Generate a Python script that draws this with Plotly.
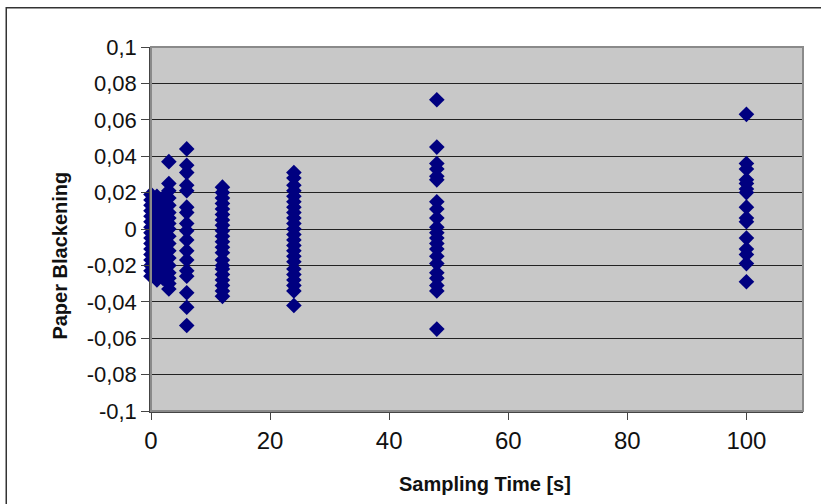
import plotly.graph_objects as go

# Sampling times [s] and paper-blackening values
t_0 = [0.019, 0.016, 0.013, 0.010, 0.007, 0.004, 0.001, -0.002, -0.005, -0.008,
       -0.011, -0.014, -0.017, -0.020, -0.023, -0.026]
t_1 = [0.018, 0.015, 0.011, 0.008, 0.005, 0.002, -0.001, -0.004, -0.007, -0.010,
       -0.013, -0.016, -0.019, -0.022, -0.025, -0.028]
t_2 = [0.017, 0.014, 0.010, 0.006, 0.003, 0.000, -0.003, -0.006, -0.009, -0.012,
       -0.015, -0.018, -0.021, -0.024, -0.027]
t_3 = [0.037, 0.025, 0.021, 0.017, 0.013, 0.009, 0.006, 0.003, 0.000, -0.004,
       -0.008, -0.012, -0.016, -0.020, -0.024, -0.027, -0.030, -0.033]
t_6 = [0.044, 0.035, 0.031, 0.024, 0.021, 0.012, 0.009, 0.003, -0.001, -0.006,
       -0.012, -0.017, -0.023, -0.026, -0.035, -0.043, -0.053]
t_12 = [0.023, 0.020, 0.017, 0.014, 0.011, 0.008, 0.005, 0.002, -0.001, -0.004,
        -0.007, -0.010, -0.013, -0.017, -0.020, -0.022, -0.025, -0.028, -0.031,
        -0.034, -0.037]
t_24 = [0.031, 0.028, 0.024, 0.021, 0.018, 0.015, 0.012, 0.009, 0.006, 0.003,
        0.000, -0.003, -0.006, -0.009, -0.012, -0.015, -0.018, -0.022, -0.025,
        -0.028, -0.031, -0.034, -0.042]
t_48 = [0.071, 0.045, 0.036, 0.033, 0.029, 0.027, 0.015, 0.011, 0.006, 0.001,
        -0.002, -0.005, -0.008, -0.011, -0.015, -0.019, -0.024, -0.027, -0.031,
        -0.034, -0.055]
t_100 = [0.063, 0.036, 0.033, 0.027, 0.025, 0.022, 0.020, 0.012, 0.006, 0.004,
         -0.005, -0.011, -0.014, -0.019, -0.029]

sampling_times = [0, 1, 2, 3, 6, 12, 24, 48, 100]
groups = [t_0, t_1, t_2, t_3, t_6, t_12, t_24, t_48, t_100]

y_tick_vals = [0.1, 0.08, 0.06, 0.04, 0.02, 0, -0.02, -0.04, -0.06, -0.08, -0.1]
y_tick_text = ["0,1", "0,08", "0,06", "0,04", "0,02", "0", "-0,02", "-0,04",
               "-0,06", "-0,08", "-0,1"]
x_tick_vals = [0, 20, 40, 60, 80, 100]

xs, ys = [], []
for t, vals in zip(sampling_times, groups):
    xs += [t] * len(vals)
    ys += vals

fig = go.Figure()
fig.add_trace(go.Scatter(
    x=xs, y=ys, mode="markers", cliponaxis=False,
    marker=dict(symbol="diamond", size=12, color="#000080",
                line=dict(width=0)),
    showlegend=False,
))

FONT = "Liberation Sans, Arial, sans-serif"
fig.update_layout(
    width=821, height=504,
    margin=dict(l=151, r=18, t=47, b=93),
    paper_bgcolor="white",
    plot_bgcolor="#c8c8c8",
    font=dict(family=FONT, color="#111"),
    xaxis=dict(range=[0, 109.5], tickvals=x_tick_vals, ticks="outside",
               ticklen=7, tickcolor="#444", showgrid=False, zeroline=False,
               showline=True, linecolor="#444", linewidth=1.5,
               tickfont=dict(size=24, family=FONT, color="#111")),
    yaxis=dict(range=[-0.1, 0.1], tickvals=y_tick_vals, ticktext=y_tick_text,
               ticks="outside", ticklen=8, tickcolor="#444",
               showgrid=True, gridcolor="#222", gridwidth=1,
               zeroline=False, showline=True, linecolor="#444", linewidth=1.5,
               tickfont=dict(size=22, family=FONT, color="#111")),
    shapes=[
        dict(type="rect", xref="paper", yref="paper", x0=0, x1=1, y0=0, y1=1,
             line=dict(color="#8a8a8a", width=2), layer="above"),
        dict(type="rect", xref="paper", yref="paper", x0=-0.222, x1=1.04,
             y0=-0.28, y1=1.108, line=dict(color="#333", width=1.5)),
    ],
    annotations=[
        dict(text="<b>Paper Blackening</b>", xref="paper", yref="paper",
             x=-0.16, y=0.426, textangle=-90, showarrow=False,
             font=dict(size=20, family=FONT, color="#111")),
        dict(text="<b>Sampling Time [s]</b>", xref="paper", yref="paper",
             x=0.512, y=-0.2, yanchor="middle", showarrow=False,
             font=dict(size=20, family=FONT, color="#111")),
    ],
)

fig.write_html("out.html")
